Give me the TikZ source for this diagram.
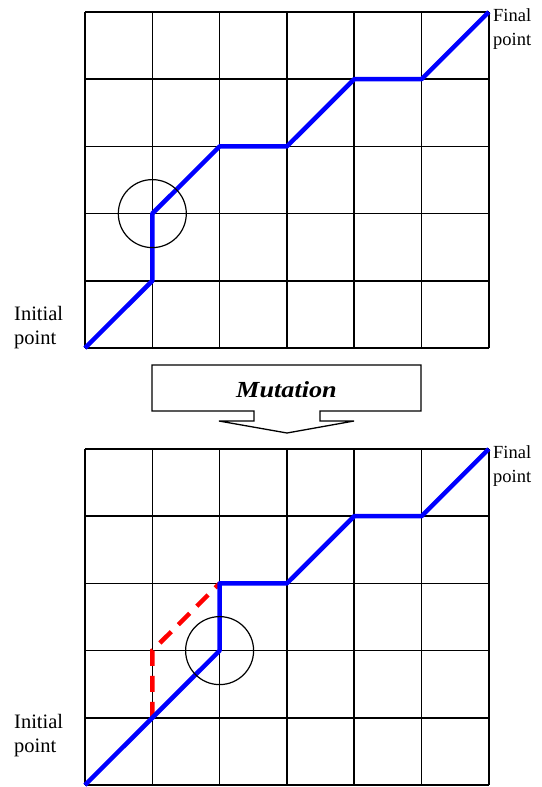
\documentclass[tikz,border=0pt]{standalone}
\usepackage{fontspec}
\setmainfont{Liberation Serif}
\begin{document}
\begin{tikzpicture}[x=1pt,y=-1pt,
  gridline/.style={line width=1.5pt,black},
  route/.style={line width=4.5pt,blue,line join=round},
  alt/.style={line width=4.5pt,red,dash pattern=on 16pt off 10pt},
  ring/.style={line width=1.2pt,black},
  lbli/.style={font=\fontsize{20.5}{24}\selectfont,inner sep=0pt,anchor=base west},
  lblf/.style={font=\fontsize{18.5}{24}\selectfont,inner sep=0pt,anchor=base west}]
\useasboundingbox (0,0) rectangle (541,787);
% top grid
\foreach \x in {85,152.3,219.6,286.9,354.2,421.5,488.8}
  \draw[gridline] (\x,12) -- (\x,348);
\foreach \y in {12,79.2,146.4,213.6,280.8,348}
  \draw[gridline] (85,\y) -- (488.8,\y);
\draw[route] (85,348) -- (152.3,280.8) -- (152.3,213.6) -- (219.6,146.4) -- (286.9,146.4) -- (354.2,79.2) -- (421.5,79.2) -- (488.8,12);
\draw[ring] (152.3,213.6) circle (34);
\node[lblf] (fin1a) at (493,21) {Final};
\node[lblf] (fin1b) at (493,45) {point};
\node[lbli] (ini1a) at (14,320) {Initial};
\node[lbli] (ini1b) at (14,344) {point};
% mutation arrow
\draw[line width=1.3pt] (152,365) -- (421,365) -- (421,411) -- (320,411) -- (320,421) -- (354,421) -- (287,433) -- (219,421) -- (254,421) -- (254,411) -- (152,411) -- cycle;
\node[font=\fontsize{23}{28}\selectfont\bfseries\itshape,xscale=1.14,inner sep=0pt,anchor=base] (mut) at (286.5,397) {Mutation};
% bottom grid
\foreach \x in {85,152.3,219.6,286.9,354.2,421.5,488.8}
  \draw[gridline] (\x,449) -- (\x,785);
\foreach \y in {449,516.2,583.4,650.6,717.8,785}
  \draw[gridline] (85,\y) -- (488.8,\y);
\draw[alt] (152.3,717.8) -- (152.3,650.6) -- (219.6,583.4);
\draw[route] (85,785) -- (152.3,717.8) -- (219.6,650.6) -- (219.6,583.4) -- (286.9,583.4) -- (354.2,516.2) -- (421.5,516.2) -- (488.8,449);
\draw[ring] (219.6,650.6) circle (34);
\node[lblf] (fin2a) at (493,458) {Final};
\node[lblf] (fin2b) at (493,482) {point};
\node[lbli] (ini2a) at (14,728) {Initial};
\node[lbli] (ini2b) at (14,752) {point};
\end{tikzpicture}
\end{document}
